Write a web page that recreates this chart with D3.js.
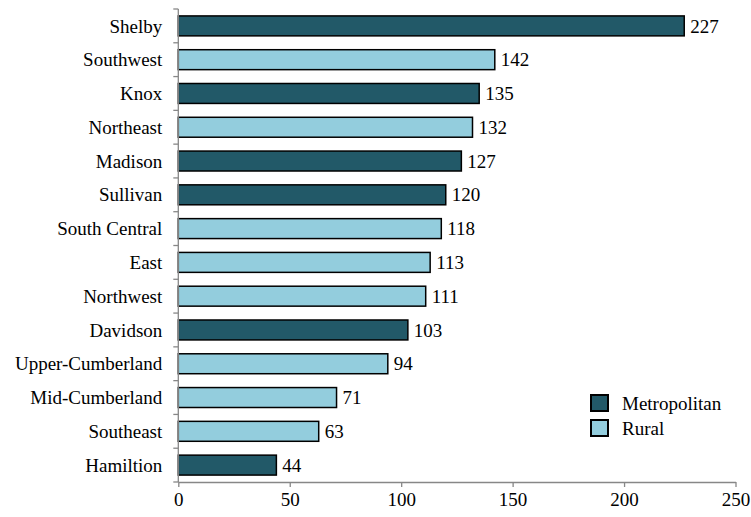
<!DOCTYPE html>
<html>
<head>
<meta charset="utf-8">
<script src="https://cdn.jsdelivr.net/npm/d3@7"></script>
<style>
  html, body { margin: 0; padding: 0; background: #fff; }
  #fig text { font-family: "Liberation Serif" !important; }
</style>
</head>
<body>
<svg id="fig" width="751" height="517"></svg>
<script>
// Regions, top to bottom
const regions = ["Shelby", "Southwest", "Knox", "Northeast", "Madison", "Sullivan",
  "South Central", "East", "Northwest", "Davidson", "Upper-Cumberland",
  "Mid-Cumberland", "Southeast", "Hamiltion"];
const counts = [227, 142, 135, 132, 127, 120, 118, 113, 111, 103, 94, 71, 63, 44];
const regionTypes = ["Metropolitan", "Rural", "Metropolitan", "Rural", "Metropolitan",
  "Metropolitan", "Rural", "Rural", "Rural", "Metropolitan", "Rural", "Rural", "Rural",
  "Metropolitan"];
const xTicks = [0, 50, 100, 150, 200, 250];
const legendItems = ["Metropolitan", "Rural"];

const colors = { Metropolitan: "#225968", Rural: "#93cddd" };
const serif = "Liberation Serif";
const fontSize = "19px";

const svg = d3.select("#fig");
const margin = { left: 178.3, right: 15.5, top: 9, bottom: 35 };
const W = 751, H = 517;

const x = d3.scaleLinear().domain([0, 250]).range([margin.left, W - margin.right]);
const y = d3.scaleBand().domain(regions).range([margin.top, H - margin.bottom])
  .paddingInner(0.41).paddingOuter(0.205);

const data = regions.map((r, i) => ({ region: r, value: counts[i], type: regionTypes[i] }));

// Bars
svg.append("g").selectAll("rect").data(data).join("rect")
  .attr("x", x(0))
  .attr("y", d => y(d.region))
  .attr("width", d => x(d.value) - x(0))
  .attr("height", y.bandwidth())
  .attr("fill", d => colors[d.type])
  .attr("stroke", "#000")
  .attr("stroke-width", 1.5);

// Value labels
svg.append("g").selectAll("text").data(data).join("text")
  .attr("x", d => x(d.value) + 6)
  .attr("y", d => y(d.region) + y.bandwidth() / 2)
  .attr("dy", "0.35em")
  .style("font-family", serif)
  .style("font-size", fontSize)
  .text(d => d.value);

// Y axis: line with ticks at band boundaries
const yAxis = svg.append("g");
yAxis.append("line")
  .attr("x1", x(0)).attr("x2", x(0))
  .attr("y1", margin.top).attr("y2", H - margin.bottom)
  .attr("stroke", "#878787").attr("stroke-width", 1.3);
const step = y.step();
const bounds = d3.range(regions.length + 1).map(i => margin.top + i * step);
yAxis.selectAll("line.tick").data(bounds).join("line")
  .attr("class", "tick")
  .attr("x1", x(0) - 5).attr("x2", x(0))
  .attr("y1", d => d).attr("y2", d => d)
  .attr("stroke", "#878787").attr("stroke-width", 1.3);
yAxis.selectAll("text").data(regions).join("text")
  .attr("x", x(0) - 16)
  .attr("y", d => y(d) + y.bandwidth() / 2)
  .attr("dy", "0.35em")
  .attr("text-anchor", "end")
  .style("font-family", serif)
  .style("font-size", fontSize)
  .text(d => d);

// X axis
const xAxis = svg.append("g")
  .attr("transform", `translate(0,${H - margin.bottom})`)
  .call(d3.axisBottom(x).tickValues(xTicks).tickSize(5).tickSizeOuter(0).tickPadding(6));
xAxis.attr("font-family", serif).attr("font-size", 19);
xAxis.select(".domain").attr("stroke", "#878787").attr("stroke-width", 1.3);
xAxis.selectAll(".tick line").attr("stroke", "#878787").attr("stroke-width", 1.3);
xAxis.selectAll(".tick text")
  .style("font-family", serif)
  .style("font-size", fontSize).attr("fill", "#000");

// Legend
const legend = svg.append("g").attr("transform", "translate(591,395)");
legendItems.forEach((k, i) => {
  const g = legend.append("g").attr("transform", `translate(0,${i * 25})`);
  g.append("rect").attr("width", 17).attr("height", 16)
    .attr("fill", colors[k]).attr("stroke", "#000").attr("stroke-width", 2);
  g.append("text").attr("x", 31).attr("y", 8).attr("dy", "0.35em")
    .style("font-family", serif)
    .style("font-size", fontSize).text(k);
});
</script>
</body>
</html>
